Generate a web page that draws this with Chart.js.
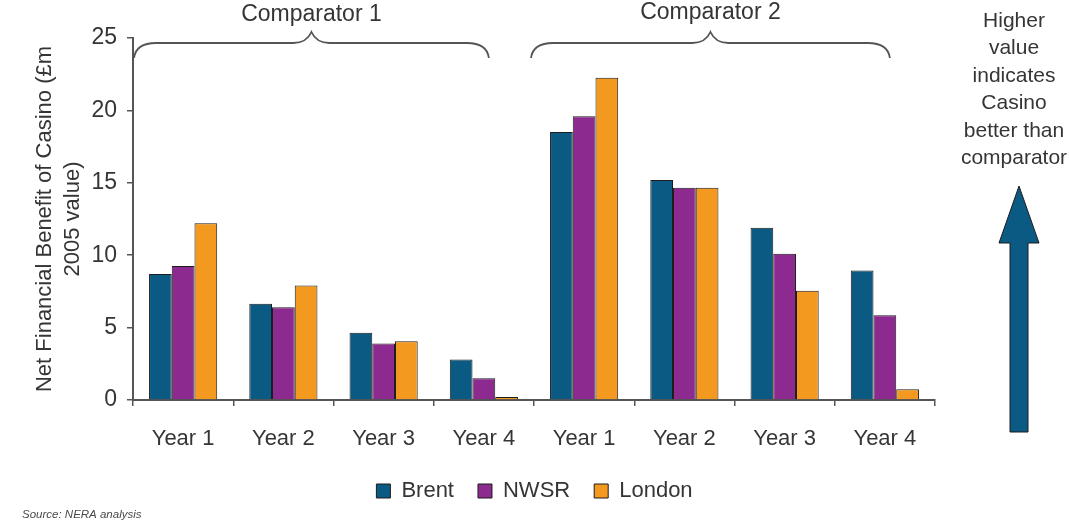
<!DOCTYPE html>
<html>
<head>
<meta charset="utf-8">
<script src="https://cdn.jsdelivr.net/npm/chart.js@4.4.1/dist/chart.umd.min.js"></script>
<style>
  html, body { margin: 0; padding: 0; background: #ffffff; }
  #wrap { width: 1069px; height: 528px; position: relative; }
</style>
</head>
<body>
<div id="wrap"><canvas id="chart"></canvas></div>
<script>
// Net financial benefit (£m, 2005 value) by year, for two comparators
const categories = ['Year 1', 'Year 2', 'Year 3', 'Year 4', 'Year 1', 'Year 2', 'Year 3', 'Year 4'];
const brent  = [8.7, 6.65, 4.65, 2.8, 18.5, 15.2, 11.9, 8.95];
const nwsr   = [9.25, 6.4, 3.9, 1.5, 19.6, 14.65, 10.1, 5.85];
const london = [12.2, 7.9, 4.05, 0.2, 22.25, 14.65, 7.55, 0.75];
const yTicks = [0, 5, 10, 15, 20, 25];
const comparatorGroups = [
  { label: 'Comparator 1', from: 0, to: 3 },
  { label: 'Comparator 2', from: 4, to: 7 }
];
const noteLines = ['Higher', 'value', 'indicates', 'Casino', 'better than', 'comparator'];
const yTitle = ['Net Financial Benefit of Casino (£m', '2005 value)'];
const sourceText = 'Source: NERA analysis';

const FONT = "'Liberation Sans', Arial, Helvetica, sans-serif";
const TEXT = '#353535';
const AXIS = '#555555';

Chart.defaults.font.family = FONT;
Chart.defaults.color = TEXT;

// Braces, side note with arrow and source line
const annotations = {
  id: 'annotations',
  afterDraw(chart) {
    const ctx = chart.ctx;
    const x = chart.scales.x;
    const cw = x.width / categories.length;
    ctx.save();

    // group braces with labels
    const yLine = 43;
    comparatorGroups.forEach((g, i) => {
      const x0 = x.getPixelForValue(g.from) - cw / 2 + 1 - (i ? 4 : 0);
      const x1 = x.getPixelForValue(g.to) + 5;
      const mid = (x0 + x1) / 2;
      ctx.beginPath();
      ctx.moveTo(x0, yLine + 15);
      ctx.quadraticCurveTo(x0 + 2, yLine, x0 + 22, yLine);
      ctx.lineTo(mid - 18, yLine);
      ctx.quadraticCurveTo(mid - 5, yLine, mid, yLine - 11);
      ctx.quadraticCurveTo(mid + 5, yLine, mid + 18, yLine);
      ctx.lineTo(x1 - 22, yLine);
      ctx.quadraticCurveTo(x1 - 2, yLine, x1, yLine + 15);
      ctx.strokeStyle = AXIS;
      ctx.lineWidth = 1.8;
      ctx.stroke();

      ctx.fillStyle = TEXT;
      ctx.font = '23px ' + FONT;
      ctx.textAlign = 'center';
      ctx.textBaseline = 'middle';
      ctx.fillText(g.label, mid, 15 - i * 2);
    });

    // side note
    ctx.font = '21px ' + FONT;
    ctx.fillStyle = TEXT;
    ctx.textAlign = 'center';
    ctx.textBaseline = 'middle';
    noteLines.forEach((t, i) => ctx.fillText(t, 1014, 21 + i * 27.5));

    // upward arrow
    const ax = 1019, tip = 186, base = 243, bottom = 432;
    ctx.beginPath();
    ctx.moveTo(ax, tip);
    ctx.lineTo(ax + 20, base);
    ctx.lineTo(ax + 9, base);
    ctx.lineTo(ax + 9, bottom);
    ctx.lineTo(ax - 9, bottom);
    ctx.lineTo(ax - 9, base);
    ctx.lineTo(ax - 20, base);
    ctx.closePath();
    ctx.fillStyle = '#0b5a84';
    ctx.fill();
    ctx.strokeStyle = '#1d1d1d';
    ctx.lineWidth = 1;
    ctx.stroke();

    // source
    ctx.font = 'italic 11.5px ' + FONT;
    ctx.fillStyle = '#4a4a4a';
    ctx.textAlign = 'left';
    ctx.fillText(sourceText, 22, 515);
    ctx.restore();
  }
};

const barStyle = { borderWidth: 1, borderColor: '#1c1c1c', categoryPercentage: 0.68, barPercentage: 1.0 };

new Chart(document.getElementById('chart'), {
  type: 'bar',
  data: {
    labels: categories,
    datasets: [
      Object.assign({ label: 'Brent',  data: brent,  backgroundColor: '#0b5a84' }, barStyle),
      Object.assign({ label: 'NWSR',   data: nwsr,   backgroundColor: '#8d2a8f' }, barStyle),
      Object.assign({ label: 'London', data: london, backgroundColor: '#f4991f' }, barStyle)
    ]
  },
  options: {
    responsive: true,
    maintainAspectRatio: false,
    animation: false,
    layout: { padding: { top: 38, bottom: 16, left: 0, right: 0 } },
    plugins: {
      tooltip: { enabled: false },
      legend: {
        position: 'bottom',
        labels: {
          boxWidth: 14,
          boxHeight: 14,
          padding: 24,
          color: TEXT,
          font: { size: 22 }
        }
      }
    },
    scales: {
      x: {
        grid: { display: true, drawOnChartArea: false, offset: true, tickLength: 6, color: AXIS, lineWidth: 1.5 },
        border: { display: true, color: AXIS, width: 2 },
        ticks: { font: { size: 22 }, color: TEXT, padding: 20, maxRotation: 0, autoSkip: false },
        afterFit(s) { s.height = 56; }
      },
      y: {
        min: 0,
        max: 25,
        afterBuildTicks(s) { s.ticks = yTicks.map(v => ({ value: v })); },
        grid: { display: true, drawOnChartArea: false, tickLength: 6, color: AXIS, lineWidth: 1.5 },
        border: { display: true, color: AXIS, width: 2 },
        ticks: { font: { size: 23 }, color: TEXT, padding: 10 },
        title: {
          display: true,
          text: yTitle,
          font: { size: 22, lineHeight: 1.27 },
          color: TEXT,
          padding: { top: 31, bottom: 0 }
        },
        afterFit(s) { s.width = 133; }
      },
      side: {
        type: 'linear',
        position: 'right',
        display: true,
        grid: { display: false },
        border: { display: false },
        ticks: { display: false },
        afterFit(s) { s.width = 134; }
      }
    }
  },
  plugins: [annotations]
});
</script>
</body>
</html>
